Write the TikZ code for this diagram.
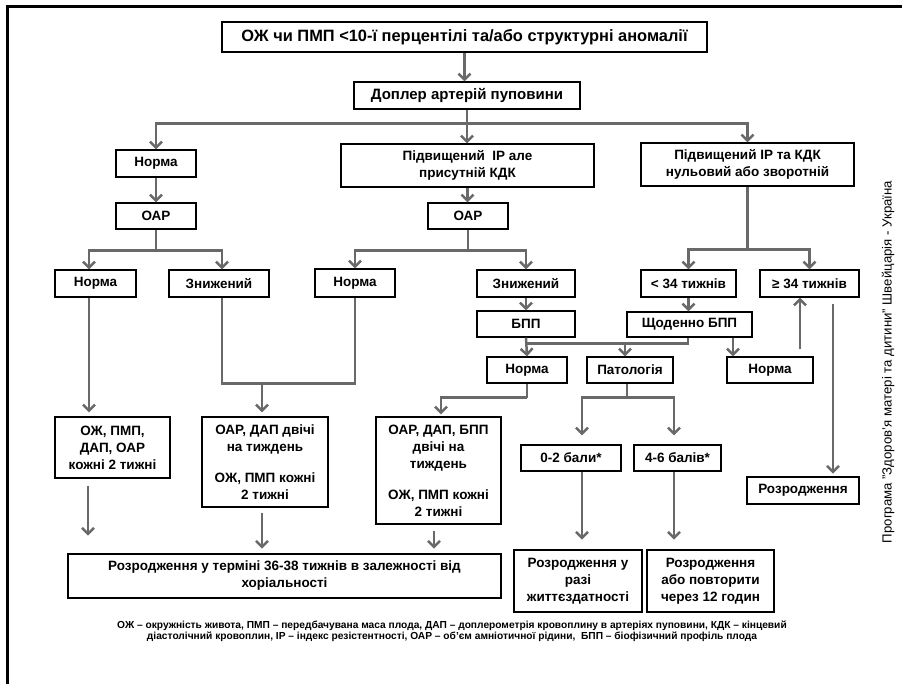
\documentclass[tikz,border=0pt]{standalone}
\usepackage{fontspec}
\setmainfont{Liberation Sans}
\newfontfamily\notefont{Liberation Sans}
\usetikzlibrary{arrows.meta,calc}
\definecolor{conncol}{RGB}{105,105,105}
\tikzset{
 box/.style={draw=black, line width=1.3pt, fill=white, align=center, inner sep=0pt, font=\bfseries\fontsize{13.5}{17}\selectfont},
 thickbox/.style={box, line width=2.8pt},
 conn/.style={draw=conncol, line width=2.5pt},
 arr/.style={conn, -{Straight Barb[length=6pt,width=12pt]}},
 notetext/.style={font=\notefont\bfseries\fontsize{10.2}{12}\selectfont, inner sep=0pt},
}
\begin{document}
\begin{tikzpicture}[x=1pt,y=-1pt]
\useasboundingbox (0,0) rectangle (902,684);
\fill[white] (0,0) rectangle (902,684);
\coordinate (fa) at (7,684); \coordinate (fb) at (7,7); \coordinate (fc) at (902,7);
\draw[line width=3pt, black] (fa) -- (fb) -- (fc);

% nodes
\node[box, minimum width=485pt, minimum height=30pt, font=\bfseries\fontsize{16.4}{19}\selectfont] (top) at (464.5,37) {ОЖ чи ПМП <10-ї перцентілі та/або структурні аномалії};
\node[box, minimum width=226pt, minimum height=27pt, font=\bfseries\fontsize{15}{17}\selectfont] (dop) at (467,95.5) {Доплер артерій пуповини};
\node[box, minimum width=80pt, minimum height=27pt] (n1) at (156,163.5) {Норма};
\node[box, minimum width=253pt, minimum height=43pt] (pid1) at (467.5,165.5) {Підвищений \ ІР але\\присутній КДК};
\node[box, minimum width=213pt, minimum height=43pt] (pid2) at (747.5,164.5) {Підвищений ІР та КДК\\нульовий або зворотній};
\node[box, minimum width=80pt, minimum height=26pt] (oar1) at (156,216) {ОАР};
\node[box, minimum width=80pt, minimum height=26pt] (oar2) at (468,216) {ОАР};
\node[box, minimum width=81pt, minimum height=27pt] (n11) at (95.5,283.5) {Норма};
\node[box, minimum width=100pt, minimum height=27pt] (zn1) at (219,283.5) {Знижений};
\node[box, minimum width=80pt, minimum height=28pt] (n12) at (355,283) {Норма};
\node[box, minimum width=98pt, minimum height=27pt] (zn2) at (526,283.5) {Знижений};
\node[box, minimum width=98pt, minimum height=26pt] (bpp) at (526,324) {БПП};
\node[box, minimum width=80pt, minimum height=26pt] (n2) at (527,370) {Норма};
\node[box, minimum width=86pt, minimum height=26pt] (pat) at (630,370) {Патологія};
\node[box, minimum width=95pt, minimum height=27pt] (lt34) at (688.5,283.5) {< 34 тижнів};
\node[box, minimum width=99pt, minimum height=27pt] (ge34) at (809.5,283.5) {≥ 34 тижнів};
\node[box, minimum width=125pt, minimum height=25pt] (sch) at (689.5,324.5) {Щоденно БПП};
\node[box, minimum width=86pt, minimum height=26pt] (n3) at (770,370) {Норма};
\node[thickbox, minimum width=112pt, minimum height=27pt] (roz) at (803,490.5) {Розродження};
\node[box, minimum width=100pt, minimum height=26pt] (b02) at (571,458) {0-2 бали*};
\node[box, minimum width=87pt, minimum height=26pt] (b46) at (677.5,458) {4-6 балів*};
\node[thickbox, minimum width=128pt, minimum height=62pt] (rz1) at (578,581) {Розродження у\\разі\\життєздатності};
\node[thickbox, minimum width=127pt, minimum height=62pt] (rz2) at (710.5,581) {Розродження\\або повторити\\через 12 годин};
\node[box, minimum width=115pt, minimum height=61pt] (m1) at (112.5,447.5) {ОЖ, ПМП,\\ДАП, ОАР\\кожні 2 тижні};
\node[box, minimum width=126pt, minimum height=90pt] (m2) at (265,462) {ОАР, ДАП двічі\\на тиждень\\[14pt]ОЖ, ПМП кожні\\2 тижні};
\node[box, minimum width=125pt, minimum height=107pt] (m3) at (438.5,470.5) {ОАР, ДАП, БПП\\двічі на\\тиждень\\[14pt]ОЖ, ПМП кожні\\2 тижні};
\node[thickbox, minimum width=433pt, minimum height=44pt] (big) at (284.5,576) {Розродження у терміні 36-38 тижнів в залежності від\\хоріальності};

\node[notetext] (note1) at (452,626) {ОЖ – окружність живота, ПМП – передбачувана маса плода, ДАП – доплерометрія кровоплину в артеріях пуповини, КДК – кінцевий};
\node[notetext] (note2) at (452,637) {діастолічний кровоплин, ІР – індекс резістентності, ОАР – об’єм амніотичної рідини, \ БПП – біофізичний профіль плода};
\node[rotate=90, font=\fontsize{13.2}{15}\selectfont, inner sep=0pt] (side) at (888,362) {Програма "Здоров’я матері та дитини" Швейцарія - Україна};

% connectors
\draw[arr] (top.south) -- (top.south |- dop.north);
\draw[conn] (dop.south) -- ++(0,14) coordinate (b1);
\draw[arr] (b1) -| (n1.north);
\draw[arr] (b1) -| (pid2.north);
\draw[arr] (b1) -- (b1 |- pid1.north);
\draw[arr] (n1.south) -- (oar1.north);
\draw[arr] (pid1.south) -- (pid1.south |- oar2.north);
\draw[conn] (oar1.south) -- ++(0,21) coordinate (b2);
\draw[arr] (b2) -| ([xshift=-6.5pt]n11.north);
\draw[arr] (b2) -| ([xshift=3pt]zn1.north);
\draw[conn] (oar2.south) -- ++(0,21) coordinate (b3);
\draw[arr] (b3) -| (n12.north);
\draw[arr] (b3) -| (zn2.north);
\draw[arr] (zn2.south) -- (bpp.north);
\draw[arr] (bpp.south) -- (n2.north);
\draw[conn] ([xshift=-1.5pt]sch.south) -- ++(0,6) coordinate (b4) -- (b4 -| bpp.south);
\coordinate (p1) at ([xshift=-5pt]pat.north);
\draw[arr] (p1 |- b4) -- (p1);
\draw[conn] (pid2.south) -- ++(0,63) coordinate (b5);
\draw[arr] (b5) -| (lt34.north);
\draw[arr] (b5) -| (ge34.north);
\draw[arr] (lt34.south) -- (lt34.south |- sch.north);
\coordinate (s1) at ([xshift=43.5pt]sch.south);
\draw[arr] (s1) -- (s1 |- n3.north);
\coordinate (s2) at ([xshift=30pt]n3.north);
\draw[arr, shorten <=7pt] (s2) -- (s2 |- ge34.south);
\coordinate (s3) at ([xshift=23.5pt]ge34.south);
\draw[arr, shorten <=6pt, shorten >=2pt] (s3) -- (s3 |- roz.north);
\draw[conn] ([xshift=-3pt]pat.south) -- ++(0,14) coordinate (b6);
\coordinate (s4) at ([xshift=11pt]b02.north);
\coordinate (s5) at ([xshift=-3.5pt]b46.north);
\draw[arr, shorten >=9pt] (b6) -| (s4);
\draw[arr, shorten >=9pt] (b6) -| (s5);
\coordinate (s6) at ([xshift=11pt]b02.south);
\coordinate (s7) at ([xshift=-3.5pt]b46.south);
\draw[arr, shorten >=9pt] (s6) -- (s6 |- rz1.north);
\draw[arr, shorten >=9pt] (s7) -- (s7 |- rz2.north);
\coordinate (s8) at ([xshift=-6.5pt]n11.south);
\draw[arr, shorten >=4pt] (s8) -- (s8 |- m1.north);
\draw[conn] ([xshift=3pt]zn1.south) -- ++(0,86) coordinate (b7) -| (n12.south);
\coordinate (s9) at ([xshift=-3pt]m2.north);
\draw[arr, shorten >=4pt] (s9 |- b7) -- (s9);
\draw[conn] (n2.south) -- ++(0,14) coordinate (b8);
\draw[arr, shorten >=2pt] (b8) -| ([xshift=2.5pt]m3.north);
\coordinate (s10) at ([xshift=-24.5pt]m1.south);
\draw[arr, shorten <=7pt, shorten >=17pt] (s10) -- (s10 |- big.north);
\coordinate (s11) at ([xshift=-3pt]m2.south);
\draw[arr, shorten <=5pt, shorten >=4pt] (s11) -- (s11 |- big.north);
\coordinate (s12) at ([xshift=-4.5pt]m3.south);
\draw[arr, shorten <=6pt, shorten >=4pt] (s12) -- (s12 |- big.north);
\end{tikzpicture}
\end{document}
